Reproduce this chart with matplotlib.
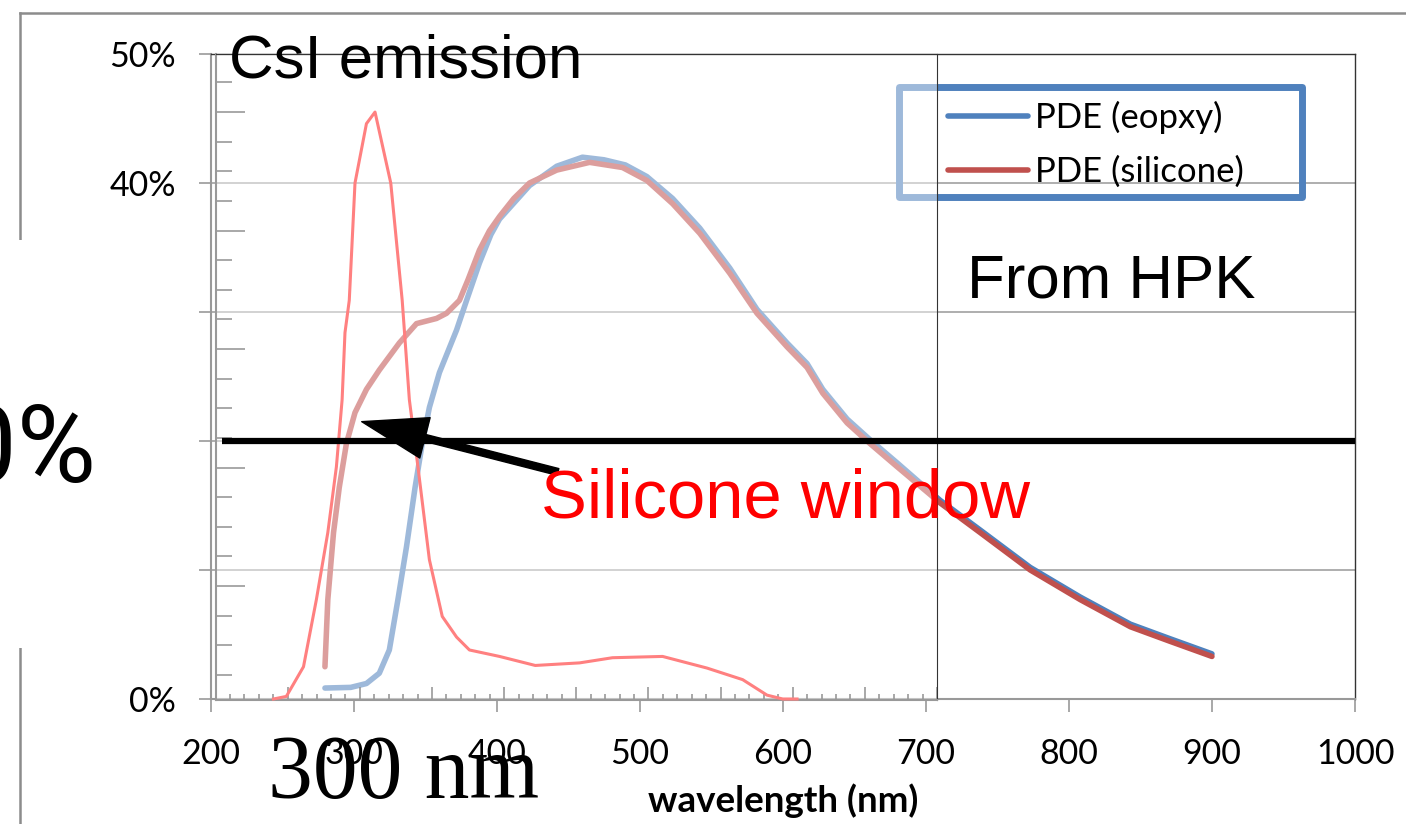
import matplotlib
matplotlib.use("Agg")
import matplotlib.pyplot as plt
from matplotlib.lines import Line2D
from matplotlib.patches import Rectangle
from matplotlib.ticker import MultipleLocator, FuncFormatter

W, H = 1406, 824

# photon detection efficiency (%) vs wavelength (nm)
wl_epoxy = [280, 298, 309, 318, 325, 331, 337, 343, 348, 353, 360, 372, 379, 388, 396,
            402, 423, 442, 460, 475, 490, 505, 523, 542, 563, 582, 603, 617, 628, 645,
            661, 680, 710, 738, 773, 808, 843, 870, 900]
pde_epoxy = [0.85, 0.9, 1.2, 2.0, 3.8, 7.7, 11.8, 16.4, 19.8, 22.6, 25.3, 28.6, 30.9, 33.8, 36.0,
             37.2, 39.8, 41.3, 42.0, 41.8, 41.4, 40.5, 38.8, 36.5, 33.4, 30.2, 27.6, 26.0, 24.0, 21.7,
             20.1, 18.3, 15.4, 13.1, 10.2, 7.9, 5.8, 4.7, 3.5]

wl_silicone = [280, 282, 286, 290, 295, 301, 309, 318, 332, 344, 358, 365, 374, 380, 388,
               395, 402, 412, 423, 442, 465, 488, 505, 523, 542, 563, 582, 603, 617, 628,
               645, 661, 680, 710, 738, 773, 808, 843, 870, 900]
pde_silicone = [2.5, 7.7, 12.9, 16.4, 19.8, 22.2, 24.0, 25.5, 27.6, 29.1, 29.5, 29.9, 30.9, 32.5, 34.8,
                36.3, 37.4, 38.8, 40.0, 41.0, 41.6, 41.2, 40.2, 38.4, 36.1, 33.0, 29.9, 27.3, 25.7, 23.7,
                21.4, 19.8, 18.0, 15.2, 12.9, 10.0, 7.7, 5.6, 4.5, 3.3]

# CsI scintillation emission spectrum (arbitrary scale)
wl_csi = [244, 253, 265, 274, 282, 288, 292, 294, 297, 301, 309, 315, 326, 334, 339,
          345, 353, 362, 372, 381, 402, 427, 458, 481, 516, 547, 572, 589, 600, 610]
csi_emission = [0.0, 0.2, 2.5, 7.7, 12.9, 18.0, 23.2, 28.4, 30.9, 40.0, 44.6, 45.5, 40.0, 30.9, 23.2,
                18.0, 10.8, 6.4, 4.8, 3.8, 3.3, 2.6, 2.8, 3.2, 3.3, 2.4, 1.5, 0.3, 0.0, 0.0]

cut_level = 20
arrow_tip = (305.7, 21.5)
arrow_tail = (442.9, 17.6)


def fx(px):
    return px / W


def fy(py):
    return 1 - py / H


fig = plt.figure(figsize=(W / 100, H / 100), dpi=100)

# outer chart border
fig.add_artist(Line2D([fx(20), 1], [fy(13), fy(13)], color="#8c8c8c", lw=1.8, zorder=2))
fig.add_artist(Line2D([fx(20), fx(20)], [fy(13), 0], color="#8c8c8c", lw=1.8, zorder=2))

# main PDE chart
ax = fig.add_axes([fx(210.5), fy(699), (1355 - 210.5) / W, (699 - 54) / H], zorder=0)
ax.plot(wl_epoxy, pde_epoxy, color="#4f81bd", lw=4, solid_capstyle="round",
        label="PDE (eopxy)")
ax.plot(wl_silicone, pde_silicone, color="#c0504d", lw=4, solid_capstyle="round",
        label="PDE (silicone)")
ax.set_xlim(200, 1000)
ax.set_ylim(0, 50)
ax.xaxis.set_major_locator(MultipleLocator(100))
ax.yaxis.set_major_locator(MultipleLocator(10))
ax.yaxis.set_major_formatter(FuncFormatter(lambda v, p: f"{v:.0f}%"))
ax.grid(axis="y", color="#a8a8a8", lw=1.3)
ax.set_axisbelow(True)
ax.tick_params(direction="out", length=9, width=1.2, color="#999999", labelsize=24.5)
ax.tick_params(axis="x", pad=19)
ax.tick_params(axis="y", pad=16)
for lab in ax.get_xticklabels() + ax.get_yticklabels():
    lab.set_fontfamily("Lato")
for side in ["left", "bottom"]:
    ax.spines[side].set_color("#999999")
    ax.spines[side].set_linewidth(1.5)
for side in ["top", "right"]:
    ax.spines[side].set_color("#333333")
    ax.spines[side].set_linewidth(1.0)
ax.set_xlabel("wavelength (nm)", fontsize=26.5, fontweight="bold", family="Lato", labelpad=10)

ax.legend(loc="upper left", bbox_to_anchor=(fx(948), fy(101)), bbox_transform=fig.transFigure,
          borderaxespad=0, borderpad=0, frameon=False, prop={"family": "Lato", "size": 25},
          handlelength=2.3, handletextpad=0.2, labelspacing=0.63)
ax.add_patch(Rectangle((fx(898.5), fy(196.5)), fx(1301.5) - fx(898.5), fy(86.5) - fy(196.5),
                       transform=fig.transFigure, fill=False, edgecolor="#4f81bd", lw=5,
                       joinstyle="round", clip_on=False))

# semi-transparent CsI emission panel laid over the left part
ov = fig.add_axes([fx(215.5), fy(700), (937 - 215.5) / W, (700 - 54) / H], zorder=1)
ov.set_facecolor((1, 1, 1, 0.45))
ov.set_xlim(0, 10)
ov.set_ylim(0.038, 5.49)
ov.xaxis.set_major_locator(MultipleLocator(1))
ov.xaxis.set_minor_locator(MultipleLocator(0.2))
ov.yaxis.set_major_locator(MultipleLocator(1))
ov.yaxis.set_minor_locator(MultipleLocator(0.25))
ov.tick_params(which="both", direction="in", color="#999999", width=1.2,
               labelbottom=False, labelleft=False)
ov.tick_params(axis="y", which="major", length=21)
ov.tick_params(axis="y", which="minor", length=11.5)
ov.tick_params(axis="x", which="major", length=9.4)
ov.tick_params(axis="x", which="minor", length=4)
for side in ["left", "bottom"]:
    ov.spines[side].set_color("#999999")
    ov.spines[side].set_linewidth(1.5)
for side in ["top", "right"]:
    ov.spines[side].set_color("#333333")
    ov.spines[side].set_linewidth(0.8)

# annotation layer in wavelength / PDE coordinates
top = fig.add_axes(ax.get_position(), zorder=2)
top.set_xlim(ax.get_xlim())
top.set_ylim(ax.get_ylim())
top.axis("off")
top.plot(wl_csi, csi_emission, color="#ff8080", lw=2.2, clip_on=False)
top.hlines(cut_level, 208, 1000, color="black", lw=4.5, clip_on=False)
top.annotate("", xy=arrow_tip, xytext=arrow_tail,
             arrowprops=dict(facecolor="black", edgecolor="black", width=5,
                             headwidth=30, headlength=47, shrink=0))

# panel hiding the middle of the axis labels
fig.add_artist(Rectangle((0, fy(648)), fx(195), fy(240) - fy(648), facecolor="white",
                         edgecolor="none", zorder=2.5))

sans = "Liberation Sans"
fig.text(fx(229), fy(78), "CsI emission", fontsize=44.5, family=sans, va="baseline", zorder=3)
fig.text(fx(967), fy(297), "From HPK", fontsize=44.5, family=sans, va="baseline", zorder=3)
fig.text(fx(541), fy(517), "Silicone window", fontsize=49.5, family=sans, color="red",
         va="baseline", zorder=3)
fig.text(fx(268), fy(798), "300 nm", fontsize=64.5, family="Liberation Serif", va="baseline",
         zorder=3)
fig.text(fx(96), fy(482), f"{cut_level}%", fontsize=78, family="Roboto", ha="right",
         va="baseline", zorder=3)

fig.savefig("out.png", dpi=100)
